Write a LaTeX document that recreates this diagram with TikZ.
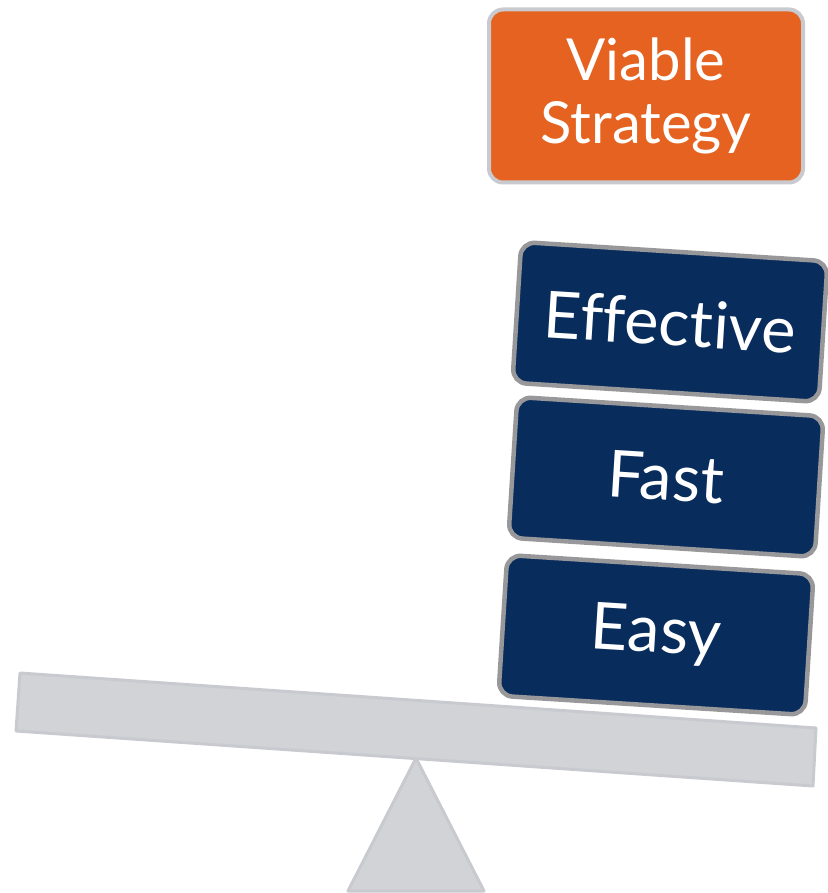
\documentclass[tikz,border=0pt]{standalone}
\usepackage{fontspec}
\setmainfont{Lato}[Ligatures=NoCommon]
\definecolor{stratorange}{RGB}{229,98,32}
\definecolor{blocknavy}{RGB}{8,44,92}
\definecolor{blockrim}{RGB}{152,152,154}
\definecolor{beamgray}{RGB}{209,211,215}
\definecolor{beamrim}{RGB}{200,202,207}
\begin{document}
\begin{tikzpicture}[x=1pt, y=-1pt,
  every node/.style={text=white, align=center, inner sep=0pt},
  goal/.style={draw=beamrim, line width=4pt, fill=stratorange, rounded corners=14pt,
    minimum width=314pt, minimum height=173pt, font=\fontsize{58}{63}\selectfont},
  block/.style={draw=blockrim, line width=4.5pt, fill=blocknavy, rounded corners=14pt,
    minimum width=307pt, minimum height=141pt, rotate=-3.6, font=\fontsize{65}{70}\selectfont}]
  \useasboundingbox (0,0) rectangle (827,893);
  % Seesaw
  \draw[beamrim, line width=3pt, fill=beamgray, line join=round]
    (416,758) -- (484,891) -- (348,891) -- cycle;
  \draw[beamrim, line width=3pt, fill=beamgray, line join=round]
    (20,673) -- (816,728) -- (813,786) -- (16,731) -- cycle;
  % Stacked blocks
  \foreach \lbl/\x/\y in {Easy/656/635, Fast/666/477, Effective/670/322} {
    \node[block] (\lbl) at (\x,\y) {\lbl};
  }
  \node[goal] (goal) at (646,96) {Viable\\Strategy};
\end{tikzpicture}
\end{document}
